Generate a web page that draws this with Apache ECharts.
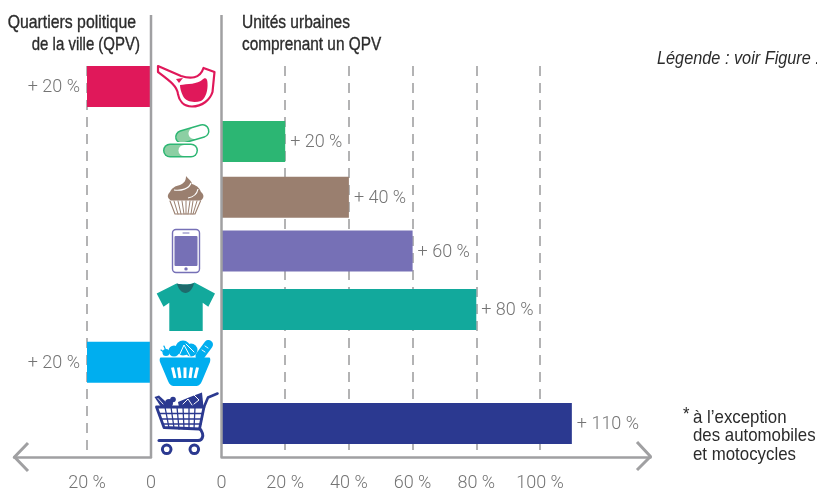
<!DOCTYPE html>
<html>
<head>
<meta charset="utf-8">
<title>Écarts de densité commerciale</title>
<script src="https://cdn.jsdelivr.net/npm/echarts@6/dist/echarts.min.js"></script>
<style>html,body{margin:0;padding:0;background:#fff}#chart{width:817px;height:491px}</style>
</head>
<body>
<div id="chart"></div>
<script>
// Commerce families, top to bottom
const categories = ['Boucherie', 'Pharmacie', 'Boulangerie-pâtisserie', 'Téléphonie', 'Habillement', 'Alimentation', 'Ensemble du commerce'];
// Surplus in quartiers politique de la ville (%), null when there is no bar
const qpvValues = [20, null, null, null, null, 20, null];
// Surplus in the urban units that contain a QPV (%)
const urbanValues = [null, 20, 40, 60, 80, null, 110];
// Row positions on the shared vertical scale (rows are not quite evenly spaced)
const rowPositions = [0, 0.98, 1.97, 2.93, 3.97, 4.91, 6];
const rowColors = ['#e0185a', '#2cb673', '#9a7f6f', '#7670b6', '#12a99c', '#00aeef', '#2b3990'];
const qpvTicks = [0, 20];
const urbanTicks = [0, 20, 40, 60, 80, 100];

const TITLE_FONT = '"Liberation Sans",sans-serif';
const LIGHT_FONT = 'Roboto,"Liberation Sans",sans-serif';
const GREY = '#a0a0a2';
const LABEL = '#747474';
const INK = '#2b2b2b';
const BAR_THICKNESS = 41;

function pairs(values) {
  return values.map((v, i) => ({ name: categories[i], value: [v, rowPositions[i], i] })).filter(d => d.value[0] !== null);
}
function tickLabel(v) { return v === 0 ? '0' : v + ' %'; }

function barRenderer(side) {
  return function (params, api) {
    const value = api.value(0), row = api.value(1), idx = api.value(2);
    const a = api.coord([0, row]), b = api.coord([value, row]);
    const x = Math.min(a[0], b[0]), w = Math.abs(b[0] - a[0]);
    return {
      type: 'group',
      children: [
        { type: 'rect', shape: { x: x, y: a[1] - BAR_THICKNESS / 2, width: w, height: BAR_THICKNESS },
          style: { fill: rowColors[idx] } },
        { type: 'text', x: side === 'left' ? x - 7 : x + w + 5, y: a[1] + 1,
          style: { text: '+ ' + value + ' %', fill: LABEL, font: '300 18px ' + LIGHT_FONT,
                   align: side === 'left' ? 'right' : 'left', verticalAlign: 'middle' } }
      ]
    };
  };
}

function xAxis(gridIndex, inverse, max, ticks) {
  return {
    type: 'value', gridIndex: gridIndex, inverse: inverse, min: 0, max: max,
    axisLine: { show: true, onZero: false, lineStyle: { color: GREY, width: 2.5 } },
    axisTick: { show: false, customValues: ticks },
    axisLabel: { customValues: ticks, formatter: tickLabel, color: LABEL, margin: 17,
                 fontFamily: LIGHT_FONT, fontWeight: 300, fontSize: 18, hideOverlap: false },
    splitLine: { show: true, showMinLine: false, lineStyle: { color: '#9a9a9c', width: 1.5, type: [10, 7] } }
  };
}
function yAxis(gridIndex) {
  return { type: 'value', gridIndex: gridIndex, inverse: true, min: -0.365, max: 6.596,
           axisLine: { show: false }, axisTick: { show: false }, axisLabel: { show: false }, splitLine: { show: false } };
}

// Pictograms for each row, drawn in the gutter between the two panels
function line(points, stroke, width, extra) {
  return { type: 'polyline', shape: { points: points },
           style: Object.assign({ stroke: stroke, lineWidth: width, fill: null, lineCap: 'round', lineJoin: 'round' }, extra || {}) };
}
function path(d, fill, stroke, width) {
  return { type: 'path', shape: { pathData: d }, style: { fill: fill || null, stroke: stroke || null, lineWidth: width || 0, lineJoin: 'round' } };
}
function circle(cx, cy, r, fill, stroke, width) {
  return { type: 'circle', shape: { cx: cx, cy: cy, r: r }, style: { fill: fill || null, stroke: stroke || null, lineWidth: width || 0 } };
}

const c = rowColors;
const meatIcon = [
  path('M158 66 L181 76 C190 79 200 79 203.5 68 L214.5 72 L212.5 92 C210 100 202 106.5 192 106.5 C183 106.5 179 100 178 94 C177 86 170 81 158 72 Z', '#fff', c[0], 2.2),
  path('M180 85 C187 84 198 84 202 80 C205 77 207.5 78 207.5 83 C208 90 206 98 201 101 C194 103 186 102 183 96 C181 92 180 88 180 85 Z', c[0]),
  path('M176 79 L183 78 L179 83 Z', c[0])
];
const pillIcon = [
  line([[182, 137], [202.5, 131]], c[1], 14),
  line([[182, 137], [192, 134]], '#8ccfa3', 11),
  line([[194, 133.5], [202.5, 131]], '#fff', 11),
  line([[170, 150.5], [191, 150.5]], '#fff', 17),
  line([[170, 150.5], [191, 150.5]], c[1], 14),
  line([[170, 150.5], [182, 150.5]], '#8ccfa3', 11),
  line([[184, 150.5], [191, 150.5]], '#fff', 11)
];
const cupcakeIcon = [
  path('M186 176 C188 179 192 181 192 184 C198 186 200 189 201 192 C204.5 195 204 198 201 200.5 L171 200.5 C167 198 167 195 170 192 C172 188 175 186 180 185 C184 183 186 181 186 176 Z', c[2]),
  path('M174 190 C181 191 189 189 191 183', null, '#fff', 1.2),
  path('M188 198 C194 197 197 194 198 189', null, '#fff', 1.2),
  line([[170, 201], [175, 214], [195, 214], [200.5, 201]], c[2], 1.1),
  line([[174, 201], [178, 214]], c[2], 1), line([[178, 201], [181, 214]], c[2], 1),
  line([[182, 201], [184, 214]], c[2], 1), line([[186, 201], [186, 214]], c[2], 1),
  line([[190, 201], [188, 214]], c[2], 1), line([[193, 201], [191, 214]], c[2], 1),
  line([[197, 201], [193, 214]], c[2], 1)
];
const phoneIcon = [
  { type: 'rect', shape: { x: 172.5, y: 229.5, width: 27, height: 43, r: 3.5 }, style: { fill: '#fff', stroke: c[3], lineWidth: 1.4 } },
  { type: 'rect', shape: { x: 174.5, y: 236, width: 23, height: 30, r: 1 }, style: { fill: c[3] } },
  circle(186, 268.9, 1.7, c[3]),
  line([[183, 233], [189, 233]], c[3], 1)
];
const shirtIcon = [
  path('M176.5 283.5 L156.7 293.5 L163.5 306.7 L169.3 302.7 L169.3 331 L202.7 331 L202.7 302.7 L208.3 306.7 L215 293.5 L194.5 282.5 C190 285 182 285 176.5 283.5 Z', c[4]),
  path('M177 283.5 C182 285 190 285 194 283 C193 289 189 293 185.5 293 C182 293 178 289 177 283.5 Z', '#1e6a6c')
];
const basketIcon = [
  path('M161 357.5 L209 357.5 C210.5 357.5 210.5 360 210 362 L202 381 C200.5 385 198 386 196 386 L174 386 C172 386 169.5 385 168 381 L160 362 C159.5 360 159.5 357.5 161 357.5 Z', c[5]),
  line([[172.5, 367.5], [175, 378]], '#fff', 3, { lineCap: 'butt' }), line([[178.5, 367.5], [180, 378]], '#fff', 3, { lineCap: 'butt' }),
  line([[185, 367.5], [185, 378]], '#fff', 3, { lineCap: 'butt' }), line([[191.5, 367.5], [190, 378]], '#fff', 3, { lineCap: 'butt' }),
  line([[197.5, 367.5], [195, 378]], '#fff', 3, { lineCap: 'butt' }),
  circle(166, 352.5, 3.5, c[5]), circle(174, 351, 5.5, c[5]), circle(183, 348, 7.5, c[5]), circle(191, 350, 6.5, c[5]),
  line([[200, 356], [208.5, 344.5]], c[5], 9),
  line([[202, 350], [205, 352]], '#fff', 0.9), line([[205, 346], [208, 348]], '#fff', 0.9),
  line([[179, 356], [184, 345], [190, 356]], '#fff', 1), line([[186, 344], [194, 352]], '#fff', 1),
  line([[161, 350], [165, 353]], c[5], 1.2), line([[164, 346], [166, 351]], c[5], 1.2)
];
const cartIcon = [
  line([[156.5, 407], [204, 407], [199.5, 429], [164, 427.5], [156.5, 407]], c[6], 2.8),
  line([[159, 413.5], [203, 413.5]], c[6], 1.3), line([[161, 419], [202, 419]], c[6], 1.3), line([[163, 424], [201, 424]], c[6], 1.3),
  line([[165, 407], [169, 428]], c[6], 1.3), line([[171, 407], [174, 428]], c[6], 1.3), line([[177, 407], [179, 429]], c[6], 1.3),
  line([[183, 407], [184, 429]], c[6], 1.3), line([[189, 407], [189, 429]], c[6], 1.3), line([[195, 407], [194, 429]], c[6], 1.3),
  line([[204, 407], [208, 397.5], [217.5, 393.5]], c[6], 2.6),
  line([[159, 440.5], [198, 440.5]], c[6], 3),
  path('M199 428 C203 431 203 436 202.5 437 C202 440 200 440.5 198 440.5', null, c[6], 3),
  path('M154.5 397 L159 395.5 L165 401 L168 407 L161 407 Z', c[6]),
  line([[158, 398.5], [163, 404]], '#fff', 0.9),
  circle(169, 403, 4, c[6]), circle(173, 399.5, 2.8, c[6]),
  path('M178 402 L190 397 L202 392.5 L203.5 407 L179 407 Z', c[6]),
  line([[183, 404], [188, 399], [192, 405]], '#fff', 1), line([[194, 395], [199, 400], [194, 404]], '#fff', 1),
  circle(166.7, 449.3, 4.3, '#fff', c[6], 3), circle(194.3, 449.3, 4.3, '#fff', c[6], 3)
];
const allIcons = [].concat(meatIcon, pillIcon, cupcakeIcon, phoneIcon, shirtIcon, basketIcon, cartIcon);

function caption(text, x, y, align, squeeze, extra) {
  return { type: 'text', x: x, y: y, scaleX: squeeze, silent: true, z: 30,
           style: Object.assign({ text: text, fill: INK, font: '18.5px ' + TITLE_FONT, align: align, verticalAlign: 'middle' }, extra || {}) };
}
const HEADING = { stroke: INK, lineWidth: 0.35 };

// Frame pieces the axes do not draw: panel spines and open arrowheads
const frame = [
  line([[151, 15], [151, 457]], GREY, 2.5, { lineCap: 'butt' }),
  line([[221.5, 15], [221.5, 457]], GREY, 2.5, { lineCap: 'butt' }),
  line([[28, 443], [14.5, 457], [28, 471]], GREY, 3, { lineCap: 'butt' }),
  line([[637, 442], [650.5, 456.5], [637, 470]], GREY, 3, { lineCap: 'butt' })
].map(el => Object.assign({ silent: true, z: 20 }, el));

const chart = echarts.init(document.getElementById('chart'), null, { renderer: 'canvas' });
chart.setOption({
  animation: false,
  backgroundColor: '#fff',
  grid: [
    { left: 14, width: 137, top: 66, height: 391, outerBoundsMode: 'none' },
    { left: 221.5, width: 429, top: 66, height: 391, outerBoundsMode: 'none' }
  ],
  xAxis: [xAxis(0, true, 137 / 3.2, qpvTicks), xAxis(1, false, 429 / 3.185, urbanTicks)],
  yAxis: [yAxis(0), yAxis(1)],
  series: [
    { name: 'Quartiers politique de la ville (QPV)', type: 'custom', xAxisIndex: 0, yAxisIndex: 0,
      data: pairs(qpvValues), renderItem: barRenderer('left'), z: 5, silent: true },
    { name: 'Unités urbaines comprenant un QPV', type: 'custom', xAxisIndex: 1, yAxisIndex: 1,
      data: pairs(urbanValues), renderItem: barRenderer('right'), z: 5, silent: true },
    { name: 'Pictogrammes', type: 'custom', coordinateSystem: 'none', data: [[0]], z: 6, silent: true,
      renderItem: function () { return { type: 'group', children: allIcons }; } }
  ],
  graphic: { elements: frame.concat([
      caption('Quartiers politique', 136, 23, 'right', 0.855, HEADING),
      caption('de la ville (QPV)', 140, 45, 'right', 0.81, HEADING),
      caption('Unités urbaines', 242, 23, 'left', 0.84, HEADING),
      caption('comprenant un QPV', 242, 45, 'left', 0.83, HEADING),
      caption('Légende : voir Figure .', 657, 59, 'left', 0.88, { font: 'italic 18.5px ' + TITLE_FONT }),
      caption('*', 683, 415, 'left', 0.9),
      caption('à l’exception', 693, 418, 'left', 0.91),
      caption('des automobiles', 693, 436, 'left', 0.91),
      caption('et motocycles', 693, 455, 'left', 0.91)
  ]) }
});
</script>
</body>
</html>
